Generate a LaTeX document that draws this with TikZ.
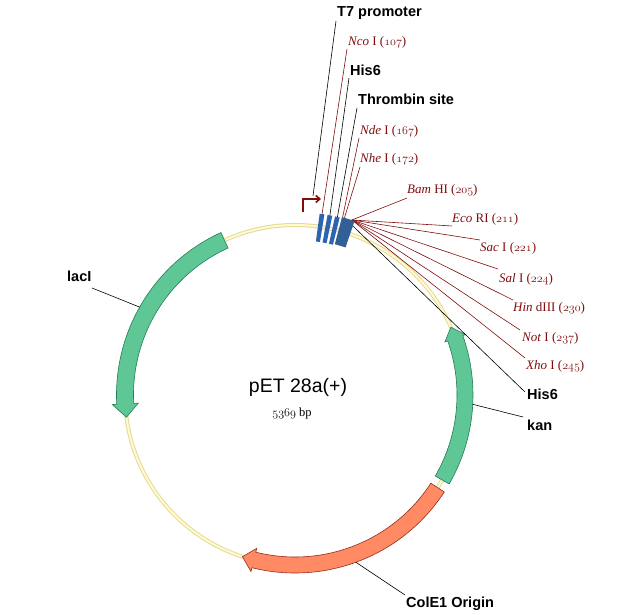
\documentclass[tikz,border=0pt]{standalone}
\usepackage{fontspec}
\newfontfamily\lsans{Liberation Sans}
\newfontfamily\lserif{Liberation Serif}
\newcommand{\osn}[1]{{\usefont{OML}{cmm}{m}{it}#1}}
\usetikzlibrary{arrows.meta}
\definecolor{enz}{RGB}{128,12,12}
\definecolor{featgreen}{RGB}{95,199,150}
\definecolor{featgreenedge}{RGB}{35,125,85}
\definecolor{featorange}{RGB}{255,138,100}
\definecolor{featorangeedge}{RGB}{150,45,25}
\definecolor{barblue}{RGB}{45,100,178}
\definecolor{barblue2}{RGB}{50,95,150}
\definecolor{bbedge}{RGB}{228,218,150}
\definecolor{bbfill}{RGB}{255,250,208}
\begin{document}
\begin{tikzpicture}[x=1pt,y=1pt,
  lbl/.style={font=\lsans\bfseries\fontsize{14.5}{16}\selectfont, inner sep=0, anchor=base west},
  enzlbl/.style={font=\lserif\fontsize{13}{15}\selectfont, text=enz, inner sep=0, anchor=base west},
  lead/.style={black, line width=0.6pt},
  enzlead/.style={enz, line width=0.6pt},
  greenarrow/.style={fill=featgreen, draw=featgreenedge, line width=0.6pt},
  orangearrow/.style={fill=featorange, draw=featorangeedge, line width=0.6pt},
  barfill/.style={fill=barblue, draw=none}]
\useasboundingbox (0,0) rectangle (638,615);
\coordinate (C) at (295,220);

% backbone
\draw[line width=4pt, bbedge] (C) circle[radius=170];
\draw[line width=2pt, bbfill] (C) circle[radius=170];

% feature arrows
\draw[greenarrow] ([shift={(C)}]114.5:178.5) arc[start angle=114.5,end angle=183,radius=178.5]
  -- ([shift={(C)}]183:183) -- ([shift={(C)}]187.5:170) -- ([shift={(C)}]183:157)
  -- ([shift={(C)}]183:161.5) arc[start angle=183,end angle=114.5,radius=161.5] -- cycle;
\draw[greenarrow] ([shift={(C)}]-30:178) arc[start angle=-30,end angle=19.5,radius=178]
  -- ([shift={(C)}]19.5:181) -- ([shift={(C)}]23.5:170) -- ([shift={(C)}]19.5:159)
  -- ([shift={(C)}]19.5:162) arc[start angle=19.5,end angle=-30,radius=162] -- cycle;
\draw[orangearrow] ([shift={(C)}]-33:178) arc[start angle=-33,end angle=-104,radius=178]
  -- ([shift={(C)}]-104:182) -- ([shift={(C)}]-108:170) -- ([shift={(C)}]-104:158)
  -- ([shift={(C)}]-104:162) arc[start angle=-104,end angle=-33,radius=162] -- cycle;

% labels
\node[lbl] (t7) at (337,598) {T7 promoter};
\node[enzlbl] (nco) at (348,569) {\textit{Nco} I (\osn{107})};
\node[lbl] (his6a) at (350,539) {His6};
\node[lbl] (thr) at (358,510) {Thrombin site};
\node[enzlbl] (nde) at (360,480) {\textit{Nde} I (\osn{167})};
\node[enzlbl] (nhe) at (360,452) {\textit{Nhe} I (\osn{172})};
\node[enzlbl] (bam) at (407,421) {\textit{Bam} HI (\osn{205})};
\node[enzlbl] (eco) at (452,392) {\textit{Eco} RI (\osn{211})};
\node[enzlbl] (sac) at (480,363) {\textit{Sac} I (\osn{221})};
\node[enzlbl] (sal) at (499,332) {\textit{Sal} I (\osn{224})};
\node[enzlbl] (hin) at (513,303) {\textit{Hin} dIII (\osn{230})};
\node[enzlbl] (not) at (522,273) {\textit{Not} I (\osn{237})};
\node[enzlbl] (xho) at (526,245) {\textit{Xho} I (\osn{245})};
\node[lbl] (his6b) at (527,215) {His6};
\node[lbl] (kan) at (527,184) {kan};
\node[lbl] (laci) at (67,333) {lacI};
\node[lbl] (cole) at (406,7) {ColE1 Origin};
\node[font=\lsans\fontsize{19.5}{22}\selectfont, inner sep=0, anchor=base] (name) at (298,222) {pET 28a(+)};
\node[font=\lserif\fontsize{12.5}{14}\selectfont, inner sep=0, anchor=base] (size) at (292,198) {\osn{5369} bp};

% leader coordinates
\coordinate (t7a) at (336,594);   \coordinate (t7b) at (313,419);
\coordinate (ncoa) at (347,566);  \coordinate (bar1) at ([shift={(C)}]81.5:183);
\coordinate (his6aa) at (349,537);\coordinate (bar2) at ([shift={(C)}]79:183);
\coordinate (thra) at (357,507);  \coordinate (bar3) at ([shift={(C)}]76.6:183);
\coordinate (ndea) at (359,477);  \coordinate (bar4) at ([shift={(C)}]75.0:184);
\coordinate (nhea) at (360,448);  \coordinate (bar5) at ([shift={(C)}]74.4:184);
\coordinate (hub) at ([shift={(C)}]72:184);
\coordinate (hubb) at ([shift={(C)}]72:180);
\coordinate (bama) at (407,417);
\coordinate (ecoa) at (452,389);
\coordinate (saca) at (480,375);
\coordinate (sala) at (498,346);
\coordinate (hina) at (513,315);
\coordinate (nota) at (520,285);
\coordinate (xhoa) at (525,257);
\coordinate (his6ba) at (525,223);
\coordinate (kana) at (523,198);  \coordinate (kanb) at ([shift={(C)}]-3:178);
\coordinate (lacia) at (92,327);  \coordinate (lacib) at ([shift={(C)}]150.5:178.5);
\coordinate (colea) at (405,20);  \coordinate (coleb) at ([shift={(C)}]-70:178);

% leaders
\draw[lead] (t7a) -- (t7b);
\draw[enzlead] (ncoa) -- (bar1);
\draw[lead] (his6aa) -- (bar2);
\draw[lead] (thra) -- (bar3);
\draw[enzlead] (ndea) -- (bar4);
\draw[enzlead] (nhea) -- (bar5);
\foreach \p in {bama,ecoa,saca,sala,hina,nota,xhoa} \draw[enzlead] (\p) -- (hub);
\draw[lead] (his6ba) -- (hubb);
\draw[lead] (kana) -- (kanb);
\draw[lead] (lacia) -- (lacib);
\draw[lead] (colea) -- (coleb);

% T7 promoter bent arrow
\draw[enz, line width=1.6pt, -{Straight Barb[length=4pt,width=7pt]}] (303,403) -- (303,416) -- (321,416);

% feature bars
\foreach \a in {81.5,79,76.6}
  \fill[barfill] ([shift={(C)}]\a-0.75:155) -- ([shift={(C)}]\a-0.75:183) -- ([shift={(C)}]\a+0.75:183) -- ([shift={(C)}]\a+0.75:155) -- cycle;
\fill[barfill, fill=barblue2] ([shift={(C)}]71.1:156) -- ([shift={(C)}]71.1:184) -- ([shift={(C)}]75.2:184) -- ([shift={(C)}]75.2:156) -- cycle;
\end{tikzpicture}
\end{document}
